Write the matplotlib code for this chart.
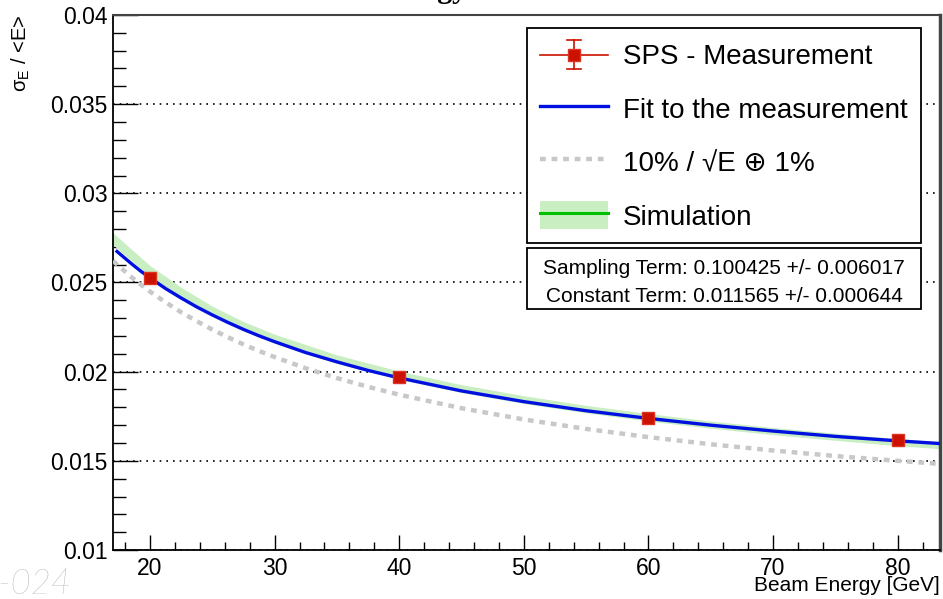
import matplotlib
matplotlib.use("Agg")
import matplotlib.pyplot as plt
from matplotlib.lines import Line2D
from matplotlib.patches import Rectangle
from matplotlib.legend_handler import HandlerBase, HandlerTuple
from matplotlib.container import ErrorbarContainer
from matplotlib.ticker import MultipleLocator, FixedLocator, FixedFormatter

plt.rcParams['font.family'] = ['Liberation Sans', 'DejaVu Sans']
plt.rcParams['mathtext.fontset'] = 'custom'
plt.rcParams['mathtext.rm'] = 'Liberation Sans'
plt.rcParams['mathtext.it'] = 'Liberation Sans:italic'
plt.rcParams['mathtext.bf'] = 'Liberation Sans:bold'

# ---------------- data ----------------
energy = [20, 40, 60, 80]
resolution = [0.02525, 0.01970, 0.01740, 0.01615]
resolution_err = [0.00025, 0.00020, 0.00018, 0.00016]

fit_energy = [17.35, 18.5, 19.25, 20, 21.25, 22.5, 23.75, 25, 26.25, 27.5, 28.75, 30, 32.5, 35,
              37.5, 40, 45, 50, 55, 60, 65, 70, 75, 80, 83.4]
fit_resolution = [0.02674, 0.02606, 0.02564, 0.02526, 0.02466, 0.02413, 0.02363, 0.02318,
                  0.02276, 0.02237, 0.02201, 0.02168, 0.02107, 0.02055, 0.02007, 0.01965,
                  0.01892, 0.01832, 0.01781, 0.01738, 0.01700, 0.01667, 0.01637, 0.01612,
                  0.01597]

ref_energy = [17.03, 18.5, 19.25, 20, 21.25, 22.5, 23.75, 25, 26.25, 27.5, 28.75, 30, 32.5, 35,
              37.5, 40, 45, 50, 55, 60, 65, 70, 75, 80, 83.4]
ref_resolution = [0.02621, 0.02531, 0.02489, 0.02449, 0.02389, 0.02333, 0.02283, 0.02236,
                  0.02193, 0.02153, 0.02116, 0.02082, 0.02019, 0.01964, 0.01915, 0.01871,
                  0.01795, 0.01732, 0.01679, 0.01633, 0.01593, 0.01558, 0.01527, 0.01500,
                  0.01483]

sim_energy = [17.03, 18.5, 20, 22.5, 25, 27.5, 30, 35, 40, 45, 50, 55, 60, 65, 70, 75, 80, 83.4]
sim_center = [0.02745, 0.02655, 0.02565, 0.02445, 0.02340, 0.02255, 0.02185, 0.02070, 0.01980,
              0.01905, 0.01843, 0.01790, 0.01744, 0.01703, 0.01667, 0.01635, 0.01605, 0.01588]
sim_halfwidth = [0.00034, 0.00032, 0.00030, 0.00028, 0.00027, 0.00026, 0.00025, 0.00024, 0.00023,
                 0.00022, 0.00022, 0.00021, 0.00021, 0.00020, 0.00020, 0.00020, 0.00020, 0.00020]

x_ticks = [20, 30, 40, 50, 60, 70, 80]
x_tick_labels = ["20", "30", "40", "50", "60", "70", "80"]
y_ticks = [0.01, 0.015, 0.02, 0.025, 0.03, 0.035, 0.04]
y_tick_labels = ["0.01", "0.015", "0.02", "0.025", "0.03", "0.035", "0.04"]

legend_labels = ["SPS - Measurement", "Fit to the measurement",
                 "10% / \u221aE \u2295 1%", "Simulation"]
stats_lines = ["Sampling Term: 0.100425 +/- 0.006017",
               "Constant Term: 0.011565 +/- 0.000644"]

# ---------------- styles ----------------
RED = '#cc1100'
RED_EDGE = '#dd3322'
BLUE = '#0010e0'
GRAY = '#c8c8c8'
BAND = '#c8eec2'
GREEN = '#00c000'

W, H = 943, 599
fig = plt.figure(figsize=(W / 100, H / 100), dpi=100)
ax_l, ax_r, ax_t, ax_b = 113, 940, 15, 550
ax = fig.add_axes([ax_l / W, 1 - ax_b / H, (ax_r - ax_l) / W, (ax_b - ax_t) / H])

lo = [c - h for c, h in zip(sim_center, sim_halfwidth)]
hi = [c + h for c, h in zip(sim_center, sim_halfwidth)]
ax.fill_between(sim_energy, lo, hi, color=BAND, lw=0, zorder=2)

gray_line, = ax.plot(ref_energy, ref_resolution, color=GRAY, lw=3.2,
                     dashes=(1.3, 1.3), zorder=3)
fit_line, = ax.plot(fit_energy, fit_resolution, color=BLUE, lw=2.4, zorder=4)

eb = ax.errorbar(energy, resolution, yerr=resolution_err, xerr=[0] * len(energy),
                 fmt='s', color=RED, ms=8.5, mfc=RED, mec=RED_EDGE, mew=1,
                 elinewidth=1.2, capsize=0, zorder=5)

ax.set_xlim(17.03, 83.4)
ax.set_ylim(0.01, 0.04)

ax.xaxis.set_major_locator(FixedLocator(x_ticks))
ax.xaxis.set_major_formatter(FixedFormatter(x_tick_labels))
ax.yaxis.set_major_locator(FixedLocator(y_ticks))
ax.yaxis.set_major_formatter(FixedFormatter(y_tick_labels))
ax.xaxis.set_minor_locator(MultipleLocator(2))
ax.yaxis.set_minor_locator(MultipleLocator(0.001))

ax.tick_params(axis='both', which='both', direction='in', top=False, right=False,
               labelsize=16.5, width=1.0, color='black')
ax.tick_params(axis='y', which='major', length=18, pad=4)
ax.tick_params(axis='y', which='minor', length=9)
ax.tick_params(axis='x', which='major', length=11, pad=5)
ax.tick_params(axis='x', which='minor', length=6)

ax.yaxis.grid(True, which='major', color='black', linestyle=(0, (1, 3)), lw=1.2)
ax.set_axisbelow(True)

for s in ['left', 'bottom']:
    ax.spines[s].set_linewidth(1.3)
    ax.spines[s].set_color('black')
ax.spines['top'].set_linewidth(1.5)
ax.spines['top'].set_color('#444444')
ax.spines['right'].set_linewidth(2.5)
ax.spines['right'].set_color('#444444')

ax.set_xlabel("Beam Energy [GeV]", fontsize=15, loc='right')
ax.xaxis.set_label_coords(1.0, -(576 - ax_b) / (ax_b - ax_t))
ax.xaxis.label.set_va('top')
ax.set_ylabel("$\\mathrm{σ}_{\\mathrm{E}}$ / <E>", fontsize=14.5, loc='top')
ax.yaxis.set_label_coords((32 - ax_l) / (ax_r - ax_l), 1.0)


class SPSHandler(HandlerBase):
    def create_artists(self, legend, orig_handle, xdescent, ydescent, width, height,
                       fontsize, trans):
        cx = width / 2 - xdescent
        cy = height / 2 - ydescent
        half = height / 2
        cw = 0.1 * width
        arts = [
            Line2D([-xdescent, width - xdescent], [cy, cy], color=RED, lw=1.2),
            Line2D([cx, cx], [cy - half, cy + half], color=RED, lw=1.2),
            Line2D([cx - cw, cx + cw], [cy - half, cy - half], color=RED, lw=1.2),
            Line2D([cx - cw, cx + cw], [cy + half, cy + half], color=RED, lw=1.2),
            Line2D([cx], [cy], marker='s', ms=8.5, color=RED, mfc=RED, mec=RED_EDGE,
                   mew=1, ls='none'),
        ]
        for a in arts:
            a.set_transform(trans)
        return arts


sim_patch = Rectangle((0, 0), 1, 1, facecolor=BAND, edgecolor='none')
sim_line = Line2D([], [], color=GREEN, lw=2.2)

leg_x0 = (527 - ax_l) / (ax_r - ax_l)
leg_x1 = (921 - ax_l) / (ax_r - ax_l)
leg_y0 = (ax_b - 242) / (ax_b - ax_t)
leg_y1 = (ax_b - 28) / (ax_b - ax_t)
leg = ax.legend([eb, fit_line, gray_line, (sim_patch, sim_line)], legend_labels,
                loc='upper left', bbox_to_anchor=(leg_x0, leg_y0, leg_x1 - leg_x0, leg_y1 - leg_y0),
                mode='expand', borderaxespad=0, fontsize=20, frameon=True, fancybox=False,
                edgecolor='black', framealpha=1, borderpad=0.45, handlelength=2.46,
                handleheight=1.2, handletextpad=0.55, labelspacing=0.86,
                handler_map={ErrorbarContainer: SPSHandler(), tuple: HandlerTuple(ndivide=1)})
leg.get_frame().set_linewidth(1.3)
leg.set_zorder(10)

sx0 = leg_x0
sy0 = (ax_b - 309) / (ax_b - ax_t)
sy1 = (ax_b - 248) / (ax_b - ax_t)
ax.add_patch(Rectangle((sx0, sy0), leg_x1 - sx0, sy1 - sy0, transform=ax.transAxes,
                       facecolor='white', edgecolor='black', lw=1.3, zorder=10, clip_on=False))
for ypix, txt in zip([268, 296], stats_lines):
    ax.text((leg_x0 + leg_x1) / 2, (ax_b - ypix) / (ax_b - ax_t), txt, transform=ax.transAxes,
            ha='center', va='center', fontsize=15, zorder=11)

fig.text(374 / W, 1 + 1.5 / H, "Energy Resolution", family=['Liberation Serif', 'DejaVu Serif'],
         weight='bold', fontsize=21.6, ha='left', va='baseline')
fig.text(72 / W, 1 - 585 / H, "8-024", family=['Lato', 'DejaVu Sans'], style='italic',
         weight='light', fontsize=25, color='#a0a0a0', ha='right', va='center')

fig.savefig("out.png", dpi=100)
